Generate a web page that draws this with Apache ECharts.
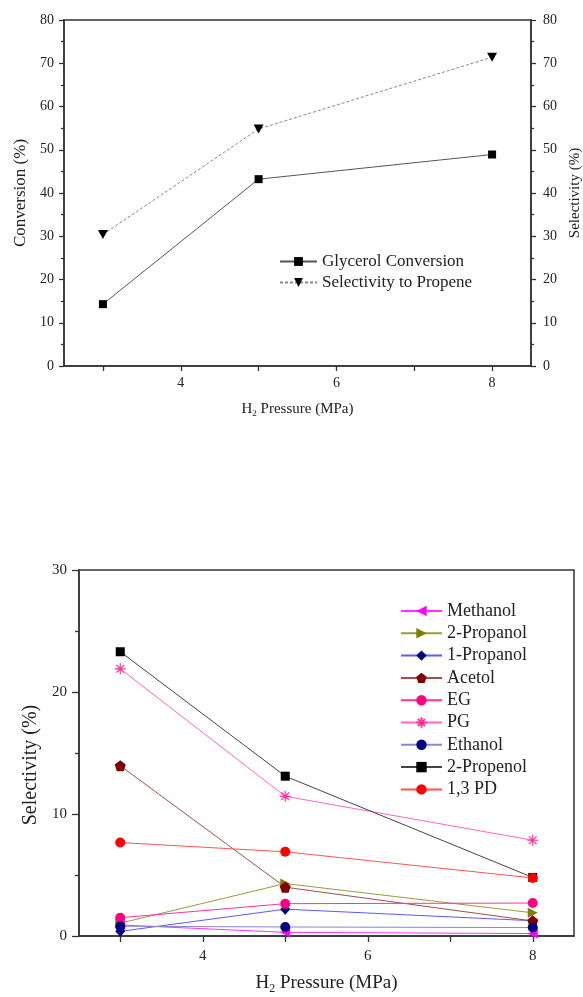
<!DOCTYPE html>
<html>
<head>
<meta charset="utf-8">
<script src="https://cdn.jsdelivr.net/npm/echarts@6/dist/echarts.min.js"></script>
<style>
html,body{margin:0;padding:0;background:#fff;}
#c{width:583px;height:997px;}
</style>
</head>
<body>
<div id="c"></div>
<script>
// ---------- data ----------
const pressures = [3, 5, 8];
const glycerolConversion = [14.3, 43.2, 48.9];
const propeneSelectivity = [30.4, 54.8, 71.4];

const methanol = [0.9, 0.3, 0.2];
const propanol2 = [1.05, 4.3, 1.9];
const propanol1 = [0.38, 2.2, 1.25];
const acetol = [13.95, 4.0, 1.23];
const eg = [1.5, 2.65, 2.7];
const pg = [21.9, 11.45, 7.85];
const ethanol = [0.8, 0.74, 0.69];
const propenol2 = [23.3, 13.1, 4.8];
const pd13 = [7.66, 6.9, 4.76];

const xTickLabels = [4, 6, 8];
const xTickMarks = [3, 4, 5, 6, 7, 8];
const topLegendNames = ['Glycerol Conversion', 'Selectivity to Propene'];
const bottomLegendNames = ['Methanol', '2-Propanol', '1-Propanol', 'Acetol', 'EG', 'PG', 'Ethanol', '2-Propenol', '1,3 PD'];

// ---------- helpers ----------
const FONT = 'Liberation Serif';
const AX = '#333';
const pair = arr => pressures.map((p, i) => [p, arr[i]]);
const pentagon = 'path://M50 0 L97.6 34.5 L79.4 90.5 L20.6 90.5 L2.4 34.5 Z';
const asterisk = 'path://M5 0 L5 10 M0 5 L10 5 M1.5 1.5 L8.5 8.5 M8.5 1.5 L1.5 8.5';

function xAxisDef(gridIndex, fs, nameFs, nameGap, labelMargin, tickLen) {
  return {
    type: 'value', gridIndex, min: 2.5, max: 8.5, interval: 0.5,
    name: '{n|H}{s|2}{n| Pressure (MPa)}', nameLocation: 'middle', nameGap,
    nameTextStyle: {
      rich: {
        n: {fontFamily: FONT, fontSize: nameFs, color: '#222'},
        s: {fontFamily: FONT, fontSize: Math.round(nameFs * 0.62), color: '#222', padding: [Math.round(nameFs * 0.6), 0, 0, 0]}
      }
    },
    axisLine: {show: true, onZero: false, lineStyle: {color: AX, width: 1.5}},
    axisTick: {show: true, customValues: xTickMarks, length: tickLen, lineStyle: {color: AX, width: 1.3}},
    axisLabel: {customValues: xTickLabels, fontFamily: FONT, fontSize: fs, color: '#222', margin: labelMargin},
    splitLine: {show: false}
  };
}

function yAxisDef(gridIndex, pos, max, name, fs, nameFs, nameGap, margin, tickLen, namePadding) {
  return {
    type: 'value', gridIndex, position: pos, min: 0, max, interval: 10,
    name, nameLocation: 'middle', nameGap,
    nameTextStyle: {fontFamily: FONT, fontSize: nameFs, color: '#222', padding: namePadding || 0},
    axisLine: {show: true, onZero: false, lineStyle: {color: AX, width: 1.5}},
    axisTick: {show: true, length: tickLen, lineStyle: {color: AX, width: 1.3}},
    minorTick: {show: true, splitNumber: 2, length: Math.round(tickLen * 0.6), lineStyle: {color: AX, width: 1.3}},
    axisLabel: {fontFamily: FONT, fontSize: fs, color: '#222', margin},
    splitLine: {show: false}
  };
}

function lineSeries(name, data, xi, yi, symbol, size, markerColor, lineColor, extra) {
  return Object.assign({
    name, type: 'line', xAxisIndex: xi, yAxisIndex: yi, data: pair(data),
    symbol, symbolSize: size, showSymbol: true,
    itemStyle: {color: markerColor, opacity: 1},
    lineStyle: {color: lineColor, width: 1},
    emphasis: {disabled: true},
    animation: false
  }, extra || {});
}

const chart = echarts.init(document.getElementById('c'), null, {renderer: 'canvas'});

const option = {
  animation: false,
  backgroundColor: '#fff',
  grid: [
    {left: 64, top: 20, width: 467, height: 346, show: true, borderColor: AX, borderWidth: 1.5,
     backgroundColor: 'transparent', containLabel: false, outerBoundsMode: 'none'},
    {left: 79, top: 570, width: 495, height: 366, show: true, borderColor: AX, borderWidth: 1.5,
     backgroundColor: 'transparent', containLabel: false, outerBoundsMode: 'none'}
  ],
  xAxis: [
    xAxisDef(0, 14, 15, 34, 10, 5),
    xAxisDef(1, 15, 19, 36, 13, 6)
  ],
  yAxis: [
    yAxisDef(0, 'left', 80, 'Conversion (%)', 14, 17, 35, 10, 5),
    yAxisDef(0, 'right', 80, 'Selectivity (%)', 14, 15, 36, 12, 5),
    yAxisDef(1, 'left', 30, 'Selectivity (%)', 15, 20, 36, 12, 7, [0, 24, 0, 0])
  ],
  legend: [
    {
      data: topLegendNames, orient: 'vertical', left: 279, top: 253, padding: 0,
      itemWidth: 37, itemHeight: 11, itemGap: 4,
      textStyle: {fontFamily: FONT, fontSize: 17, color: '#222'},
      selectedMode: false
    },
    {
      data: bottomLegendNames, orient: 'vertical', left: 400, top: 602, padding: 0,
      itemWidth: 41, itemHeight: 13, itemGap: 4.3,
      textStyle: {fontFamily: FONT, fontSize: 18, color: '#222'},
      selectedMode: false
    }
  ],
  series: [
    lineSeries('Glycerol Conversion', glycerolConversion, 0, 0, 'rect', 8, '#000', '#555'),
    lineSeries('Selectivity to Propene', propeneSelectivity, 0, 1, 'triangle', [10, 9], '#000', '#888',
      {symbolRotate: 180, lineStyle: {color: '#888', width: 1, type: [3, 2]}}),

    lineSeries('Methanol', methanol, 1, 2, 'triangle', [10, 10], '#ff00ff', '#ff33ff', {symbolRotate: 90}),
    lineSeries('2-Propanol', propanol2, 1, 2, 'triangle', [10, 10], '#808000', '#9a9a40', {symbolRotate: -90}),
    lineSeries('1-Propanol', propanol1, 1, 2, 'diamond', [10, 11], '#000080', '#5a5aff'),
    lineSeries('Acetol', acetol, 1, 2, pentagon, 11, '#800000', '#a0504a'),
    lineSeries('EG', eg, 1, 2, 'circle', 10, '#ff0080', '#ff3399'),
    lineSeries('PG', pg, 1, 2, asterisk, 11, '#ff3399', '#ff66cc',
      {itemStyle: {color: '#ff3399', borderColor: '#ff3399', borderWidth: 1.2}}),
    lineSeries('Ethanol', ethanol, 1, 2, 'circle', 10, '#000080', '#8888cc'),
    lineSeries('2-Propenol', propenol2, 1, 2, 'rect', 9, '#000', '#444'),
    lineSeries('1,3 PD', pd13, 1, 2, 'circle', 10, '#ff0000', '#ff5555')
  ]
};
chart.setOption(option);
</script>
</body>
</html>
